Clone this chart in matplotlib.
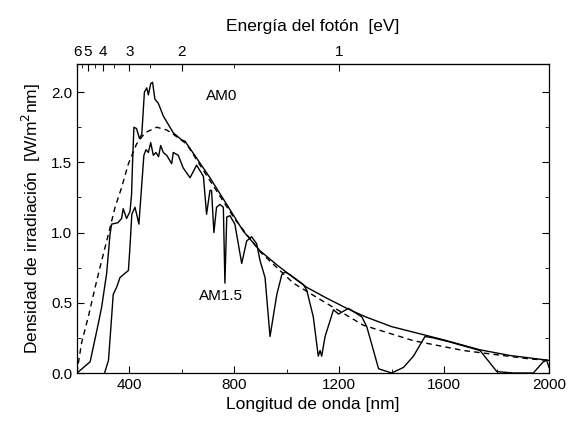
import numpy as np
import matplotlib
matplotlib.use("Agg")
import matplotlib.pyplot as plt

plt.rcParams['font.family'] = ['Liberation Sans', 'DejaVu Sans']

# espectro extraterrestre AM0 (nm, W/m2nm)
am0_wl = [200, 250, 281, 294, 313, 326, 332, 356, 370, 376, 389, 402, 408, 412, 417,
          427, 438, 447, 457, 466, 472, 481, 488, 497, 510, 529, 548, 567, 599, 612,
          656, 707, 771, 834, 898, 962, 1025, 1076, 1150, 1229, 1300, 1400, 1527, 1600,
          1737, 1850, 2000]
am0_val = [0.0, 0.08, 0.35, 0.47, 0.71, 0.99, 1.06, 1.07, 1.10, 1.17, 1.10, 1.15, 1.27, 1.51, 1.75,
           1.74, 1.67, 1.70, 2.00, 2.03, 1.98, 2.06, 2.07, 1.95, 1.92, 1.83, 1.77, 1.71, 1.66, 1.65,
           1.53, 1.39, 1.20, 1.01, 0.87, 0.77, 0.68, 0.61, 0.535, 0.46, 0.40, 0.33, 0.27, 0.235,
           0.165, 0.125, 0.09]

# espectro terrestre AM1.5
am15_wl = [305, 320, 332, 338, 351, 364, 383, 396, 402, 409, 421, 430, 436, 446, 455,
           463, 472, 481, 491, 501, 511, 519, 529, 542, 561, 567, 586, 605, 631, 656,
           682, 694, 707, 713, 722, 732, 745, 758, 764, 771, 783, 802, 828, 847, 866,
           885, 898, 917, 936, 962, 981, 993, 1012, 1063, 1076, 1101, 1120, 1127, 1133,
           1146, 1178, 1197, 1235, 1286, 1305, 1350, 1400, 1445, 1483, 1527, 1559, 1623,
           1661, 1737, 1801, 1864, 1940, 1978, 1991, 2000]
am15_val = [0.0, 0.09, 0.40, 0.56, 0.61, 0.68, 0.71, 0.73, 0.90, 1.13, 1.18, 1.11, 1.06, 1.32, 1.55,
            1.59, 1.57, 1.64, 1.55, 1.57, 1.54, 1.62, 1.57, 1.55, 1.49, 1.57, 1.55, 1.46, 1.39, 1.48,
            1.40, 1.13, 1.30, 1.30, 1.00, 1.18, 1.20, 1.18, 0.64, 1.11, 1.12, 1.06, 0.78, 0.94, 0.97,
            0.92, 0.80, 0.68, 0.26, 0.56, 0.70, 0.72, 0.70, 0.63, 0.59, 0.40, 0.12, 0.16, 0.12,
            0.26, 0.45, 0.42, 0.46, 0.40, 0.33, 0.03, 0.0, 0.04, 0.12, 0.26, 0.25, 0.22,
            0.20, 0.16, 0.01, 0.0, 0.0, 0.08, 0.09, 0.04]

# cuerpo negro (linea discontinua)
bb_wl = [200, 205, 218, 243, 269, 294, 320, 345, 370, 396, 427, 459, 504, 542, 567,
         618, 700, 800, 900, 1025, 1139, 1292, 1483, 1674, 1928, 2000]
bb_val = [0.0, 0.07, 0.22, 0.40, 0.61, 0.80, 0.99, 1.18, 1.32, 1.49, 1.63, 1.71, 1.75, 1.73, 1.70,
          1.63, 1.39, 1.10, 0.86, 0.64, 0.51, 0.34, 0.23, 0.16, 0.10, 0.09]

energy_major = [6, 5, 4, 3, 2, 1]
energy_minor = [5.5, 4.5, 3.5, 2.5, 1.5]

fig = plt.figure(figsize=(5.68, 4.21), dpi=100)
ax = fig.add_axes([0.1356, 0.114, 0.831, 0.734])

ax.plot(am0_wl, am0_val, color='black', lw=1.0)
ax.plot(am15_wl, am15_val, color='black', lw=1.0)
ax.plot(bb_wl, bb_val, color='black', lw=1.0, ls=(0, (4, 3)))

ax.text(753, 1.97, 'AM0', fontsize=11, ha='center', va='center')
ax.text(749, 0.55, 'AM1.5', fontsize=11, ha='center', va='center')

ax.set_xlim(200, 2000)
ax.set_ylim(0, 2.2)
ax.set_xticks([400, 800, 1200, 1600, 2000])
ax.set_xticks([600, 1000, 1400, 1800], minor=True)
ax.set_yticks([0.0, 0.5, 1.0, 1.5, 2.0])
ax.set_yticks([0.25, 0.75, 1.25, 1.75], minor=True)
ax.yaxis.set_major_formatter(matplotlib.ticker.FormatStrFormatter('%.1f'))
ax.tick_params(which='both', direction='in', right=True, labelsize=11)
ax.tick_params(which='major', length=5)
ax.tick_params(which='minor', length=3)

ax.set_xlabel('Longitud de onda [nm]', fontsize=12.5, labelpad=4)
ax.set_ylabel('Densidad de irradiación  [W/m$^2$nm]', fontsize=12.5, labelpad=6)

hc = 1200.0
sec = ax.secondary_xaxis('top', functions=(lambda x: hc / np.maximum(x, 1e-6),
                                           lambda e: hc / np.maximum(e, 1e-6)))
sec.set_xticks(energy_major)
sec.set_xticks(energy_minor, minor=True)
sec.set_xticklabels([str(e) for e in energy_major])
sec.tick_params(which='both', direction='in', labelsize=11)
sec.tick_params(which='major', length=5)
sec.tick_params(which='minor', length=3)
sec.set_xlabel('Energía del fotón  [eV]', fontsize=12.5, labelpad=10)

for s in ax.spines.values():
    s.set_linewidth(0.9)

fig.savefig('out.png', dpi=100)
